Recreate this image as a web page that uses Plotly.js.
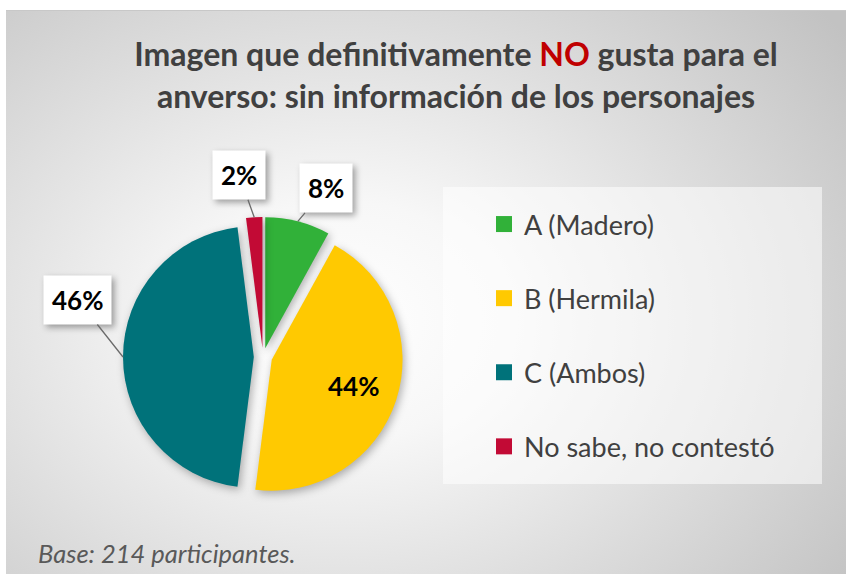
<!DOCTYPE html>
<html>
<head>
<meta charset="utf-8">
<script src="https://cdn.plot.ly/plotly-3.0.1.min.js"></script>
<style>
  html, body { margin:0; padding:0; background:#ffffff; }
  #wrap { position:relative; width:846px; height:574px; overflow:hidden; background:#ffffff; }
  #bg { position:absolute; left:6px; top:10px; width:840px; height:564px;
        border-top:1px solid #c8c8c8;
        background: radial-gradient(ellipse 75% 85% at 40% 55%, #ffffff 0%, #f7f7f7 25%, #dedede 60%, #c2c2c2 100%); }
  #chart { position:absolute; left:0; top:0; width:846px; height:574px; }
  #chart .slice path.surface { filter: drop-shadow(2px 3px 4px rgba(0,0,0,0.30)); }
  #chart g.annotation rect.bg { filter: drop-shadow(3px 3px 3px rgba(0,0,0,0.35)); }
</style>
</head>
<body>
<div id="wrap"><div id="bg"></div><div id="chart"></div></div>
<script>
// ---- data ----
const categories = ['A (Madero)', 'B (Hermila)', 'C (Ambos)', 'No sabe, no contestó'];
const percents   = [8, 44, 46, 2];
const colors     = ['#31B139', '#FFC901', '#00727A', '#C20A35'];

// ---- layout constants ----
const W = 846, H = 574;
const cx = 263, cy = 357, R = 140, pull = 0.07;
const r = R / (1 + pull);
const labelOffsets = [[28, -33], [0, 17], [-45, -57], [-15, -42]];
const labelInside  = [false, true, false, false];

const total = percents.reduce((a, b) => a + b, 0);
let cum = 0;
const annotations = [];
percents.forEach((v, i) => {
  const mid = (cum + v / 2) / total * 2 * Math.PI;
  cum += v;
  const ux = Math.sin(mid), uy = -Math.cos(mid);
  if (labelInside[i]) {
    const d = r * (pull + 0.66);
    annotations.push({
      xref: 'paper', yref: 'paper',
      x: (cx + d * ux) / W, y: 1 - (cy + d * uy) / H,
      xshift: labelOffsets[i][0], yshift: -labelOffsets[i][1],
      text: '<b>' + v + '%</b>', showarrow: false,
      font: { family: 'Lato, sans-serif', size: 26, color: '#000000' }
    });
  } else {
    annotations.push({
      xref: 'paper', yref: 'paper',
      x: (cx + R * ux) / W, y: 1 - (cy + R * uy) / H,
      ax: labelOffsets[i][0], ay: labelOffsets[i][1],
      text: '<b>' + v + '%</b>', showarrow: true, arrowhead: 0, arrowwidth: 1.3,
      arrowcolor: '#6b6b6b', standoff: 0,
      bgcolor: '#ffffff', borderpad: 8,
      font: { family: 'Lato, sans-serif', size: 26, color: '#000000' }
    });
  }
});

annotations.push({
  xref: 'paper', yref: 'paper', x: 36 / W, y: 1 - 553 / H,
  xanchor: 'left', yanchor: 'middle', showarrow: false,
  text: '<i>Base: 214 participantes.</i>',
  font: { family: 'Lato, sans-serif', size: 25.5, color: '#595959' }
});

const traces = [{
  type: 'pie',
  labels: categories,
  values: percents,
  marker: { colors: colors, line: { width: 0 } },
  sort: false,
  direction: 'clockwise',
  rotation: 0,
  pull: pull,
  textinfo: 'none',
  hoverinfo: 'none',
  showlegend: false,
  domain: { x: [(cx - R) / W, (cx + R) / W], y: [(H - cy - R) / H, (H - cy + R) / H] }
}];

categories.forEach((c, i) => {
  traces.push({
    type: 'scatter', mode: 'markers', x: [null], y: [null],
    name: c, legendgroup: 'g' + i,
    marker: { symbol: 'square', size: 16, color: colors[i] },
    hoverinfo: 'none'
  });
});

const layout = {
  width: W, height: H,
  margin: { l: 0, r: 0, t: 0, b: 0 },
  paper_bgcolor: 'rgba(0,0,0,0)',
  plot_bgcolor: 'rgba(0,0,0,0)',
  xaxis: { visible: false },
  yaxis: { visible: false },
  title: {
    text: 'Imagen que definitivamente <span style="color:#C00000">NO</span> gusta para el<br>anverso: sin información de los personajes',
    x: 456 / W, xanchor: 'center', xref: 'container',
    y: 1 - 66 / H, yanchor: 'middle', yref: 'container',
    font: { family: 'Lato, sans-serif', size: 32, color: '#404040', weight: 'bold' }
  },
  showlegend: true,
  legend: {
    x: 484 / W, xanchor: 'left', y: 1 - 200 / H, yanchor: 'top',
    bgcolor: 'rgba(0,0,0,0)', borderwidth: 0,
    font: { family: 'Lato, sans-serif', size: 27, color: '#404040' },
    tracegroupgap: 36, itemsizing: 'trace', itemclick: false
  },
  shapes: [{
    type: 'rect', xref: 'paper', yref: 'paper', layer: 'below',
    x0: 443 / W, x1: 822 / W, y0: 1 - 484 / H, y1: 1 - 187 / H,
    fillcolor: 'rgba(255,255,255,0.55)', line: { width: 0 }
  }],
  annotations: annotations
};

Plotly.newPlot('chart', traces, layout, { displayModeBar: false, staticPlot: true });
</script>
</body>
</html>
